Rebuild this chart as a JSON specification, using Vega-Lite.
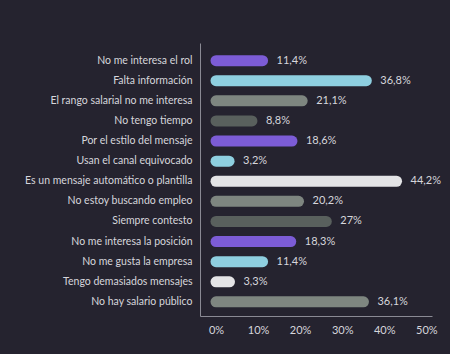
{
  "$schema": "https://vega.github.io/schema/vega-lite/v6.json",
  "autosize": {"type": "none"},
  "width": 232,
  "height": 273,
  "padding": {"left": 200, "top": 43, "right": 18, "bottom": 38},
  "background": "#25232f",
  "config": {
    "view": {"stroke": null},
    "font": "Lato",
    "locale": {"number": {"decimal": ",", "thousands": ".", "grouping": [3], "currency": ["", " €"]}}
  },
  "data": {
    "values": [
      {"motivo": "No me interesa el rol", "valor": 0.114, "grupo": "a"},
      {"motivo": "Falta información", "valor": 0.368, "grupo": "b"},
      {"motivo": "El rango salarial no me interesa", "valor": 0.211, "grupo": "c"},
      {"motivo": "No tengo tiempo", "valor": 0.088, "grupo": "d"},
      {"motivo": "Por el estilo del mensaje", "valor": 0.186, "grupo": "a"},
      {"motivo": "Usan el canal equivocado", "valor": 0.032, "grupo": "b"},
      {"motivo": "Es un mensaje automático o plantilla", "valor": 0.442, "grupo": "e"},
      {"motivo": "No estoy buscando empleo", "valor": 0.202, "grupo": "c"},
      {"motivo": "Siempre contesto", "valor": 0.27, "grupo": "d"},
      {"motivo": "No me interesa la posición", "valor": 0.183, "grupo": "a"},
      {"motivo": "No me gusta la empresa", "valor": 0.114, "grupo": "b"},
      {"motivo": "Tengo demasiados mensajes", "valor": 0.033, "grupo": "e"},
      {"motivo": "No hay salario público", "valor": 0.361, "grupo": "c"}
    ]
  },
  "encoding": {
    "y": {
      "field": "motivo",
      "type": "nominal",
      "sort": null,
      "scale": {"paddingInner": 0, "paddingOuter": 0.29, "align": 0.65},
      "axis": {
        "title": null,
        "ticks": false,
        "labelPadding": 8,
        "labelFontSize": 10.5,
        "labelColor": "#d6d6dc",
        "labelFont": "Lato",
        "domainColor": "#8a8a94",
        "domainWidth": 1
      }
    }
  },
  "resolve": {"scale": {"x": "independent"}, "axis": {"x": "independent"}},
  "layer": [
    {
      "encoding": {
        "x": {
          "field": "valor",
          "type": "quantitative",
          "scale": {"domain": [-0.03917, 0.5288], "nice": false, "zero": false},
          "axis": null
        }
      },
      "layer": [
        {
          "mark": {"type": "rule", "strokeWidth": 11, "strokeCap": "round"},
          "encoding": {
            "x2": {"datum": 0},
            "color": {
              "field": "grupo",
              "type": "nominal",
              "legend": null,
              "scale": {
                "domain": ["a", "b", "c", "d", "e"],
                "range": ["#7c5cd6", "#8ecfe0", "#7e8680", "#59605d", "#e4e4e6"]
              }
            }
          }
        },
        {
          "mark": {"type": "text", "align": "left", "baseline": "middle", "dx": 14, "fontSize": 11, "color": "#d6d6dc", "font": "Lato"},
          "encoding": {
            "text": {"field": "valor", "type": "quantitative", "format": ".1~%"}
          }
        }
      ]
    },
    {
      "mark": {"type": "tick", "opacity": 0},
      "encoding": {
        "x": {
          "field": "valor",
          "type": "quantitative",
          "scale": {"domain": [-0.038, 0.5136], "nice": false, "zero": false},
          "axis": {
            "orient": "bottom",
            "title": null,
            "values": [0, 0.1, 0.2, 0.3, 0.4, 0.5],
            "format": "~%",
            "ticks": false,
            "grid": false,
            "labelPadding": 8,
            "labelFontSize": 11,
            "labelColor": "#d6d6dc",
            "labelFont": "Lato",
            "domainColor": "#8a8a94",
            "domainWidth": 1
          }
        }
      }
    }
  ]
}
